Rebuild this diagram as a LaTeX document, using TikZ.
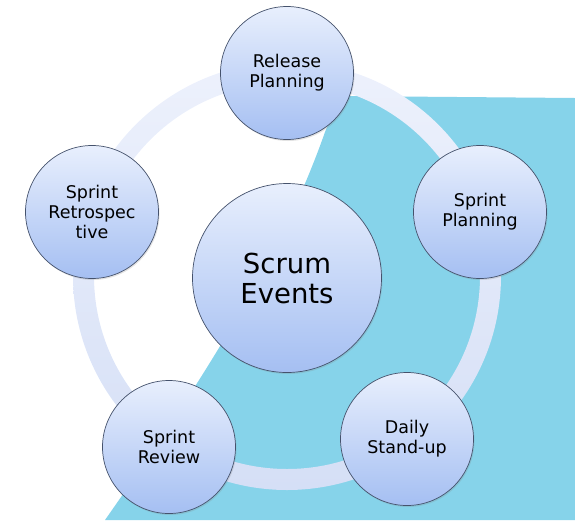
\documentclass[tikz,border=0pt]{standalone}
\usepackage{fontspec}
\setmainfont{DejaVu Sans}
\usetikzlibrary{shadows}
\definecolor{backcyan}{HTML}{86D3EA}
\definecolor{ringtop}{HTML}{EDF1FC}
\definecolor{ringbot}{HTML}{D5DFF6}
\definecolor{balltop}{HTML}{E8EFFD}
\definecolor{ballbot}{HTML}{A5BFF2}
\definecolor{ballline}{HTML}{45526C}
\tikzset{
  event/.style={circle, draw=ballline, line width=0.7pt, inner sep=0pt,
    top color=balltop, bottom color=ballbot, align=center,
    font=\fontsize{17.5}{20}\selectfont,
    drop shadow={opacity=0.22, shadow xshift=1pt, shadow yshift=-1.5pt},
    minimum size=133pt},
  hub/.style={event, minimum size=189pt, font=\fontsize{27.5}{30}\selectfont}
}
\begin{document}
\begin{tikzpicture}[x=1pt,y=-1pt]
\useasboundingbox (0,0) rectangle (575,520);
% cyan backdrop with a curved left edge
\fill[backcyan] (575,98) -- (340,96)
  -- (325,132)
  .. controls (279.5,262) and (196,390) .. (105,520)
  -- (575,520) -- cycle;
% the cycle ring behind the events
\path[even odd rule, top color=ringtop, bottom color=ringbot]
  (287,276) circle[radius=214] (287,276) circle[radius=193];
% events
\node[hub]   (hub)   at (287,278) {Scrum\\Events};
\node[event] (rel)   at (287,73)  {Release\\Planning};
\node[event] (spl)   at (480,212) {Sprint\\Planning};
\node[event] (daily) at (407,439) {Daily\\Stand-up};
\node[event] (rev)   at (169,447) {Sprint\\Review};
\node[event] (retro) at (92,212)  {Sprint\\Retrospec\\tive};
\end{tikzpicture}
\end{document}
